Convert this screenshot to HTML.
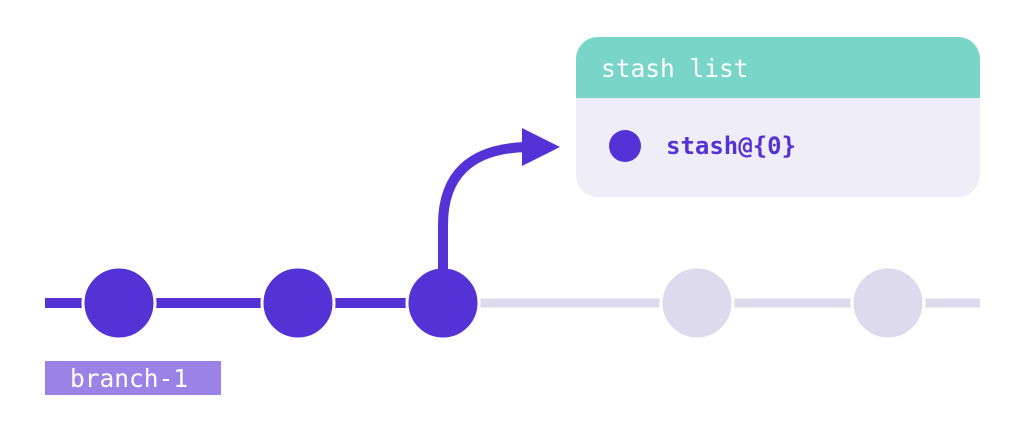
<!DOCTYPE html>
<html><head><style>body{margin:0;background:#fff;width:1024px;height:436px;overflow:hidden}</style></head>
<body>
<svg width="1024" height="436" viewBox="0 0 1024 436" xmlns="http://www.w3.org/2000/svg">
<line x1="443" y1="303" x2="980" y2="303" stroke="#dedaee" stroke-width="9"/>
<line x1="45" y1="303" x2="443" y2="303" stroke="#5433d6" stroke-width="10"/>
<path d="M443 285 L443 225 Q443 150 525 147" fill="none" stroke="#5433d6" stroke-width="10"/>
<polygon points="522,128 560,147 522,166" fill="#5433d6"/>
<g stroke="#fff" stroke-width="3">
<circle cx="119" cy="303" r="36" fill="#5433d6"/>
<circle cx="298" cy="303" r="36" fill="#5433d6"/>
<circle cx="443" cy="303" r="36" fill="#5433d6"/>
<circle cx="697" cy="303" r="36" fill="#dedaee"/>
<circle cx="888" cy="303" r="36" fill="#dedaee"/>
</g>
<line x1="443" y1="265" x2="443" y2="285" stroke="#5433d6" stroke-width="10"/>
<rect x="45" y="361" width="176" height="34" fill="#9a82e6"/>
<text x="70" y="387" font-family="DejaVu Sans Mono, monospace" font-size="24.5" fill="#fff">branch-1</text>
<clipPath id="c"><rect x="576" y="37" width="404" height="160" rx="22"/></clipPath>
<g clip-path="url(#c)">
<rect x="576" y="37" width="404" height="160" fill="#efeef8"/>
<rect x="576" y="37" width="404" height="61" fill="#78d5c8"/>
</g>
<text x="601" y="77" font-family="DejaVu Sans Mono, monospace" font-size="24.5" fill="#fff">stash list</text>
<circle cx="625" cy="146" r="16" fill="#5433d6"/>
<text x="666" y="154" font-family="DejaVu Sans Mono, monospace" font-size="24" font-weight="bold" fill="#5433d6">stash@{0}</text>
</svg>
</body></html>
